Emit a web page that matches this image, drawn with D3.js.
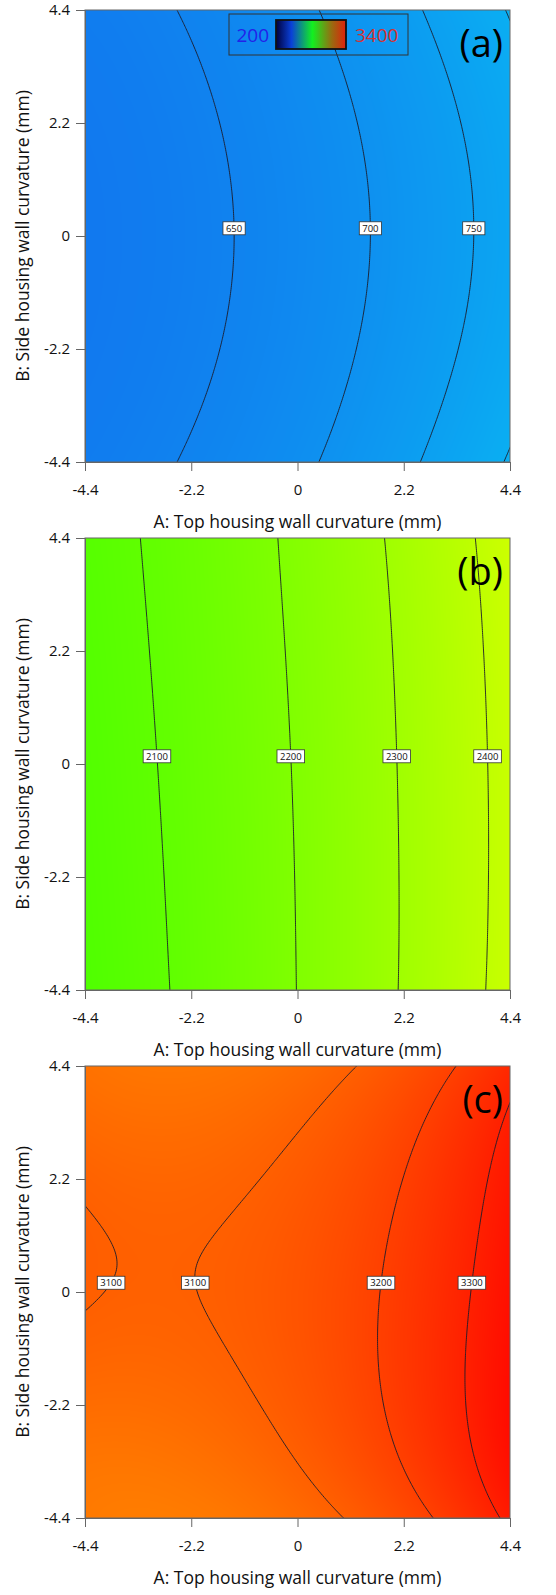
<!DOCTYPE html>
<html>
<head>
<meta charset="utf-8">
<script src="https://cdn.jsdelivr.net/npm/d3@7"></script>
<style>
  body { margin: 0; background: #fff; }
  svg { display: block; font-family: "Open Sans", sans-serif; }
</style>
</head>
<body>
<div id="chart"></div>
<script>
// grid nodes of the response surface (A across, B down from 4.4 to -4.4)
const gridA = [-4.4, -2.2, 0, 2.2, 4.4];
const gridB = [4.4, 2.2, 0, -2.2, -4.4];
const tickValues = [-4.4, -2.2, 0, 2.2, 4.4];

// response at the grid nodes
const valuesA = [
  [631, 654, 691, 740, 803],
  [620, 642, 676, 721, 778],
  [616, 638, 671, 715, 770],
  [619, 642, 676, 722, 779],
  [629, 654, 691, 741, 804],
];
const valuesB = [
  [2070, 2133, 2217, 2320, 2442],
  [2064, 2127.5, 2210.5, 2311.5, 2432],
  [2058, 2122.5, 2205.5, 2307, 2426.5],
  [2053, 2118.5, 2202.5, 2305, 2426],
  [2048, 2115, 2201, 2306, 2430],
];
const valuesC = [
  [3044, 3029, 3061, 3142, 3272],
  [3092, 3082, 3118, 3201, 3331],
  [3104, 3099, 3138, 3223, 3353],
  [3061, 3070, 3124, 3222, 3365],
  [3019, 3014, 3063, 3163, 3317],
];
const levelsA = [650, 700, 750, 800];
const levelsB = [2100, 2200, 2300, 2400];
const levelsC = [3100, 3200, 3300];
const panelNames = ["(a)", "(b)", "(c)"];

const colorDomain = [200, 1080, 1800, 2600, 3400];
const colorRange = ["#2000e6", "#00fff8", "#00ff00", "#ffff00", "#ff0000"];
const legendMin = 200;
const legendMax = 3400;

const panels = [
  { name: panelNames[0], values: valuesA, levels: levelsA, labelB: 0.15 },
  { name: panelNames[1], values: valuesB, levels: levelsB, labelB: 0.15 },
  { name: panelNames[2], values: valuesC, levels: levelsC, labelB: 0.18 },
];

const width = 556;
const height = 1595;
const left = 85;
const top0 = 10;
const plotW = 425;
const plotH = 452;
const pitch = 528;

const svg = d3.select("#chart").append("svg")
  .attr("width", width)
  .attr("height", height);

const x = d3.scaleLinear().domain([-4.4, 4.4]).range([0, plotW]);
const y = d3.scaleLinear().domain([-4.4, 4.4]).range([plotH, 0]);
const color = d3.scaleLinear().domain(colorDomain).range(colorRange);
const lut = d3.range(200, 3401).map((v) => d3.rgb(color(v)));

function lagrange(nodes, t) {
  return nodes.map((ni, i) =>
    nodes.reduce((w, nj, j) => (j === i ? w : (w * (t - nj)) / (ni - nj)), 1));
}

function surface(values) {
  return (a, b) => {
    const wa = lagrange(gridA, a);
    const wb = lagrange(gridB, b);
    let s = 0;
    for (let r = 0; r < gridB.length; r++)
      for (let c = 0; c < gridA.length; c++) s += wb[r] * wa[c] * values[r][c];
    return s;
  };
}

function fieldImage(f) {
  const canvas = document.createElement("canvas");
  canvas.width = plotW;
  canvas.height = plotH;
  const ctx = canvas.getContext("2d");
  const img = ctx.createImageData(plotW, plotH);
  for (let j = 0; j < plotH; j++) {
    const bv = y.invert(j + 0.5);
    for (let i = 0; i < plotW; i++) {
      const v = f(x.invert(i + 0.5), bv);
      const c = lut[Math.max(0, Math.min(3200, Math.round(v - 200)))];
      const k = (j * plotW + i) * 4;
      img.data[k] = c.r;
      img.data[k + 1] = c.g;
      img.data[k + 2] = c.b;
      img.data[k + 3] = 255;
    }
  }
  ctx.putImageData(img, 0, 0);
  return canvas.toDataURL();
}

panels.forEach((p, pi) => {
  const f = surface(p.values);
  const g = svg.append("g").attr("transform", `translate(${left},${top0 + pi * pitch})`);

  const clipId = `clip-${pi}`;
  g.append("clipPath").attr("id", clipId)
    .append("rect").attr("width", plotW).attr("height", plotH);

  // colour field
  g.append("image")
    .attr("width", plotW)
    .attr("height", plotH)
    .attr("preserveAspectRatio", "none")
    .attr("href", fieldImage(f));

  // contour lines, grid a bit wider than the plot so edge closures are clipped away
  const n = 231, lo = -4.6, hi = 4.6, step = (hi - lo) / (n - 1);
  const grid = new Array(n * n);
  for (let j = 0; j < n; j++)
    for (let i = 0; i < n; i++) grid[j * n + i] = f(lo + i * step, hi - j * step);
  const contours = d3.contours().size([n, n]).thresholds(p.levels)(grid);
  const proj = d3.geoTransform({
    point(px, py) {
      this.stream.point(x(lo + (px - 0.5) * step), y(hi - (py - 0.5) * step));
    },
  });
  g.append("g")
    .attr("clip-path", `url(#${clipId})`)
    .selectAll("path")
    .data(contours)
    .join("path")
    .attr("d", d3.geoPath(proj))
    .attr("fill", "none")
    .attr("stroke", "#1c1c2a")
    .attr("stroke-width", 0.9);

  // frame
  g.append("rect")
    .attr("width", plotW)
    .attr("height", plotH)
    .attr("fill", "none")
    .attr("stroke", "#666")
    .attr("stroke-width", 1);

  // axes
  const xAxis = g.append("g")
    .attr("transform", `translate(0,${plotH})`)
    .call(d3.axisBottom(x).tickValues(tickValues).tickFormat((d) => String(d))
      .tickSize(9).tickPadding(13).tickSizeOuter(0));
  const yAxis = g.append("g")
    .call(d3.axisLeft(y).tickValues(tickValues).tickFormat((d) => String(d))
      .tickSize(9).tickPadding(6).tickSizeOuter(0));
  [xAxis, yAxis].forEach((ax) => {
    ax.select(".domain").attr("stroke", "#666");
    ax.selectAll(".tick line").attr("stroke", "#666");
    ax.selectAll(".tick text")
      .attr("fill", "#111")
      .style("font-family", '"Open Sans", sans-serif')
      .style("font-size", "15px");
  });

  g.append("text")
    .attr("x", plotW / 2)
    .attr("y", plotH + 66)
    .attr("text-anchor", "middle")
    .style("font-size", "17.5px")
    .attr("fill", "#111")
    .text("A: Top housing wall curvature (mm)");

  g.append("text")
    .attr("transform", `translate(${29 - left},${plotH / 2}) rotate(-90)`)
    .attr("text-anchor", "middle")
    .style("font-size", "17.5px")
    .attr("fill", "#111")
    .text("B: Side housing wall curvature (mm)");

  // contour labels where each line crosses the row at labelB
  const labels = [];
  p.levels.forEach((lv) => {
    let prevA = -4.4, prev = f(prevA, p.labelB) - lv;
    for (let k = 1; k <= 880; k++) {
      const a = -4.4 + k * 0.01;
      const cur = f(a, p.labelB) - lv;
      if ((prev < 0) !== (cur < 0)) {
        labels.push({ level: lv, a: prevA + (0.01 * prev) / (prev - cur) });
      }
      prev = cur;
      prevA = a;
    }
  });
  const lab = g.selectAll(".clabel")
    .data(labels)
    .join("g")
    .attr("class", "clabel")
    .attr("transform", (d) => `translate(${x(d.a)},${y(p.labelB)})`);
  lab.append("rect")
    .attr("x", (d) => -(String(d.level).length * 5.4 + 6) / 2)
    .attr("y", -6.5)
    .attr("width", (d) => String(d.level).length * 5.4 + 6)
    .attr("height", 13)
    .attr("fill", "#fff")
    .attr("stroke", "#333")
    .attr("stroke-width", 0.8);
  lab.append("text")
    .attr("text-anchor", "middle")
    .attr("dy", "0.35em")
    .style("font-size", "9.5px")
    .attr("fill", "#111")
    .text((d) => d.level);

  // panel letter
  g.append("text")
    .attr("x", plotW - 7)
    .attr("y", 47)
    .attr("text-anchor", "end")
    .style("font-size", "38px")
    .attr("fill", "#000")
    .text(p.name);

  if (pi === 0) {
    const leg = g.append("g").attr("transform", `translate(${229 - left},${14 - top0})`);
    const grad = svg.append("defs").append("linearGradient").attr("id", "legendGrad");
    [["0%", "#00003c"], ["22%", "#0a40d8"], ["52%", "#12f020"], ["80%", "#9a6a10"], ["100%", "#e0200c"]]
      .forEach(([o, c]) => grad.append("stop").attr("offset", o).attr("stop-color", c));
    leg.append("rect")
      .attr("width", 179)
      .attr("height", 41)
      .attr("fill", "none")
      .attr("stroke", "#333")
      .attr("stroke-width", 1);
    leg.append("rect")
      .attr("x", 47)
      .attr("y", 6)
      .attr("width", 70)
      .attr("height", 29)
      .attr("fill", "url(#legendGrad)")
      .attr("stroke", "#111")
      .attr("stroke-width", 1.8);
    leg.append("text")
      .attr("x", 40)
      .attr("y", 28)
      .attr("text-anchor", "end")
      .style("font-size", "19px")
      .attr("fill", "#2222e8")
      .text(legendMin);
    leg.append("text")
      .attr("x", 126)
      .attr("y", 28)
      .style("font-size", "19px")
      .attr("fill", "#d83030")
      .text(legendMax);
  }
});
</script>
</body>
</html>
